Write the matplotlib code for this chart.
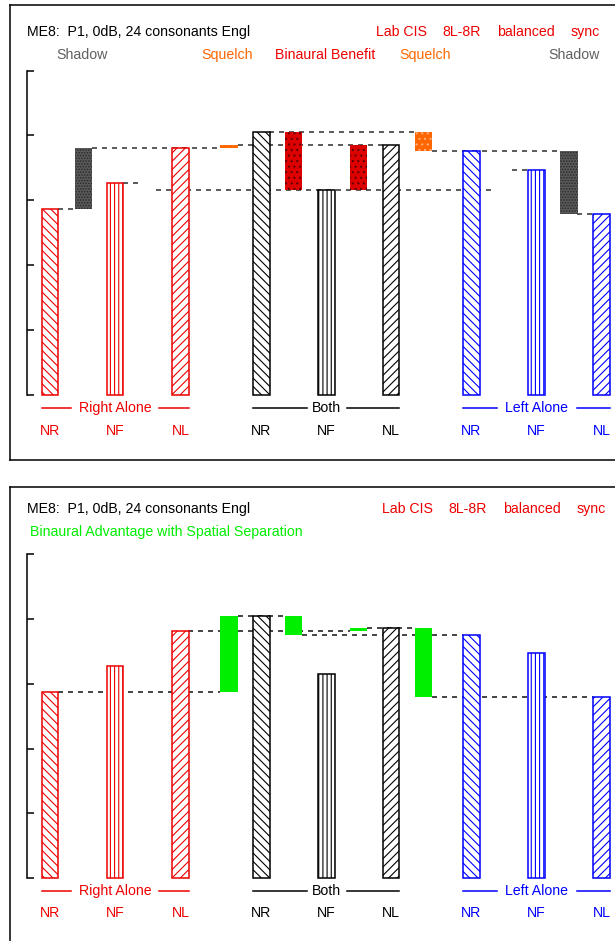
import matplotlib
matplotlib.use('Agg')
import matplotlib.pyplot as plt

plt.rcParams['font.family'] = ['Liberation Sans', 'DejaVu Sans']
plt.rcParams['hatch.linewidth'] = 0.8
plt.rcParams['lines.scale_dashes'] = False

# percent correct, per ear condition and noise position
noise_pos = ['NR', 'NF', 'NL']
right_alone = [57.3, 65.3, 76.1]
both_ears = [80.9, 63.1, 77.0]
left_alone = [75.1, 69.3, 55.9]

title = 'ME8:  P1, 0dB, 24 consonants Engl'
setup = ['Lab CIS', '8L-8R', 'balanced', 'sync']

RED = '#EE0000'
ORANGE = '#FF6600'
GRAY = '#606060'
GREEN = '#00EE00'
BLUE = '#0000FF'
FS = 10.2

# horizontal layout in pixels
W = 16.5
xr = [50, 115, 180.5]
xb = [261.5, 326.5, 391]
xl = [471.5, 536.5, 601.5]
hatches = ['\\\\\\\\', '||||', '////']
S = 3.245  # pixels per percent

fig = plt.figure(figsize=(6.15, 9.41), dpi=100)


def make_panel(p_top, p_bot, z0):
    ax = fig.add_axes([0, 1 - p_bot / 941, 1, (p_bot - p_top) / 941])
    ax.set_xlim(0, 615)
    ax.set_ylim((z0 - p_bot) / S, (z0 - p_top) / S)
    for side in ['top', 'right', 'bottom']:
        ax.spines[side].set_visible(False)
    ax.spines['left'].set_position(('data', 27))
    ax.spines['left'].set_bounds(0, 100)
    ax.spines['left'].set_linewidth(1.1)
    ax.set_yticks(range(0, 101, 20))
    ax.tick_params(axis='y', direction='in', length=5, width=1.1, labelleft=False)
    ax.set_xticks([])
    ax.patch.set_alpha(0)

    def py(p):
        return (z0 - p) / S

    return ax, py


def draw_bars(ax):
    groups = [(xr, right_alone, RED), (xb, both_ears, 'black'), (xl, left_alone, BLUE)]
    for xs, vals, col in groups:
        ax.bar(xs, vals, width=W, color='white', edgecolor=col,
               hatch=hatches, linewidth=1.1, zorder=3)


def block(ax, x, lo, hi, fill, dots, hatch):
    ax.bar(x, hi - lo, bottom=lo, width=W + 1, color=fill, edgecolor=dots,
           hatch=hatch, linewidth=0, zorder=3)


def dash(ax, y, x0, x1, col):
    ax.plot([x0, x1], [y, y], color=col, lw=1.4, dashes=(3.6, 3.6), zorder=1)


def footer(ax, py, y_grp, y_cat):
    groups = [('Right Alone', xr, RED, 37, 7), ('Both', xb, 'black', 15, 5),
              ('Left Alone', xl, BLUE, 32, 8)]
    for name, xs, col, half, gap in groups:
        yy = py(y_grp)
        ax.plot([xs[0] - W / 2, xs[1] - half - gap], [yy, yy], color=col, lw=1.1, clip_on=False)
        ax.plot([xs[1] + half + gap, xs[2] + W / 2], [yy, yy], color=col, lw=1.1, clip_on=False)
        ax.text(xs[1], yy, name, color=col, fontsize=FS, ha='center', va='center')
        for x, lab in zip(xs, noise_pos):
            ax.text(x, py(y_cat), lab, color=col, fontsize=FS, ha='center', va='center')


def header(ax, py, y1, dx):
    ax.text(27, py(y1), title, fontsize=FS, va='center')
    for x, t in zip([376, 442, 497, 571], setup):
        ax.text(x + dx, py(y1), t, color=RED, fontsize=FS, va='center')


def frame(ax, py, top, bottom):
    ax.plot([10, 10], [py(top), py(bottom)], color='black', lw=1.1, clip_on=False)
    ax.plot([10, 615], [py(top), py(top)], color='black', lw=1.1, clip_on=False)
    ax.plot([10, 615], [py(bottom), py(bottom)], color='black', lw=1.1, clip_on=False)


# ---- top panel: shadow, squelch, binaural benefit ----
ax1, py1 = make_panel(0, 470, 395)
frame(ax1, py1, 5, 460)
header(ax1, py1, 32, 0)
for x, t, c in [(56, 'Shadow', GRAY), (201, 'Squelch', ORANGE), (275, 'Binaural Benefit', RED),
                (399, 'Squelch', ORANGE), (548, 'Shadow', GRAY)]:
    ax1.text(x, py1(55), t, color=c, fontsize=FS, va='center')
draw_bars(ax1)

block(ax1, 83.5, right_alone[0], right_alone[2], '#5A5A5A', '#2A2A2A', '......')
block(ax1, 229, right_alone[2], both_ears[2], ORANGE, '#FFB080', '...')
block(ax1, 293.5, both_ears[1], both_ears[0], '#DD0000', '#600000', '...')
block(ax1, 358.5, both_ears[1], both_ears[2], '#DD0000', '#600000', '...')
block(ax1, 423.5, left_alone[0], both_ears[0], ORANGE, '#FFB080', '...')
block(ax1, 569, left_alone[2], left_alone[0], '#5A5A5A', '#2A2A2A', '......')

DG = '#5A5A5A'
dash(ax1, right_alone[0], 58, 75, DG)
dash(ax1, right_alone[2], 92, 220, DG)
dash(ax1, right_alone[1], 123, 140, DG)
dash(ax1, both_ears[1], 156, 495, DG)
dash(ax1, both_ears[0], 269, 415, DG)
dash(ax1, both_ears[2], 238, 383, DG)
dash(ax1, left_alone[0], 432, 560, DG)
dash(ax1, left_alone[1], 512, 528, DG)
dash(ax1, left_alone[2], 577, 593, DG)
footer(ax1, py1, 408, 431)

# ---- bottom panel: binaural advantage with spatial separation ----
ax2, py2 = make_panel(475, 941, 878.3)
frame(ax2, py2, 487, 945)
header(ax2, py2, 509, 6)
ax2.text(30, py2(532), 'Binaural Advantage with Spatial Separation', color=GREEN,
         fontsize=FS, va='center')
draw_bars(ax2)

block(ax2, 229, right_alone[0], both_ears[0], GREEN, GREEN, None)
block(ax2, 293.5, left_alone[0], both_ears[0], GREEN, GREEN, None)
block(ax2, 358.5, right_alone[2], both_ears[2], GREEN, GREEN, None)
block(ax2, 423.5, left_alone[2], both_ears[2], GREEN, GREEN, None)

DK = '#444444'
dash(ax2, right_alone[0], 58, 220, DK)
dash(ax2, right_alone[2], 188, 350, DK)
dash(ax2, both_ears[0], 238, 285, DK)
dash(ax2, left_alone[0], 302, 463, DK)
dash(ax2, both_ears[2], 367, 415, DK)
dash(ax2, left_alone[2], 432, 593, DK)
footer(ax2, py2, 891, 913)

fig.savefig('out.png', dpi=100)
